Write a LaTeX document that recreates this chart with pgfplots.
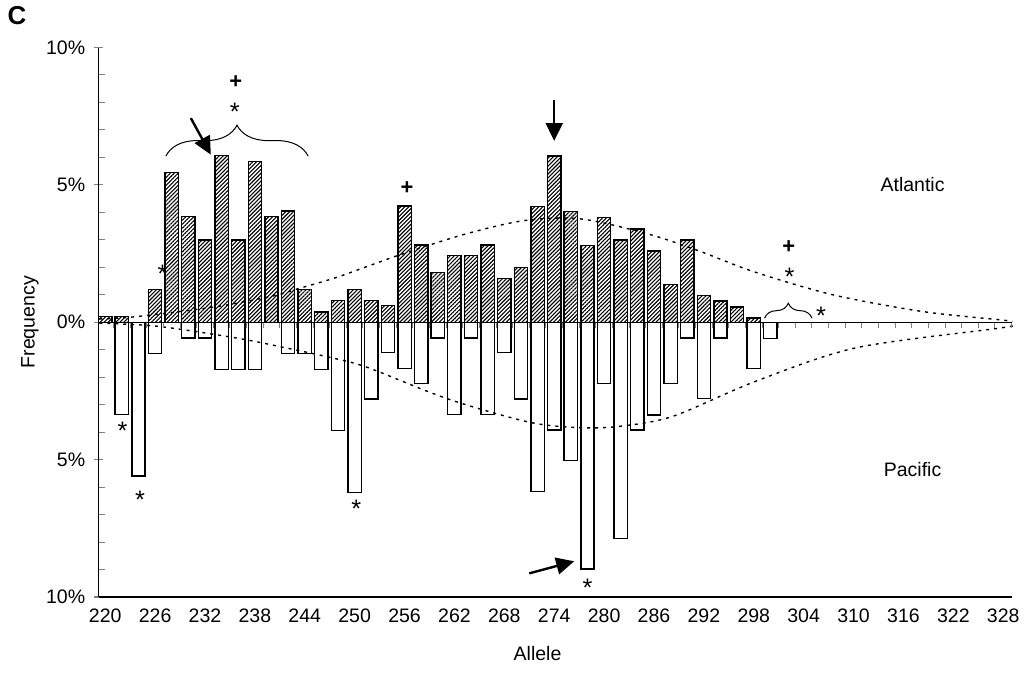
\documentclass[border=0pt]{standalone}
\usepackage{fontspec}
\setmainfont{Liberation Sans}
\usepackage{pgfplots}
\pgfplotsset{compat=1.18}
\usetikzlibrary{patterns.meta,decorations.pathreplacing,arrows.meta}

\newcommand{\astr}{\fontsize{12.7}{14}\selectfont *}
\newcommand{\pls}{\fontsize{11}{13}\selectfont\bfseries +}
\begin{document}
\fontsize{9.8}{11.8}\selectfont
\begin{tikzpicture}[font=\fontsize{9.8}{11.8}\selectfont]
\path (-49.5pt,-41pt) rectangle (463.5pt,299pt);
\begin{axis}[
  at={(0pt,0pt)}, anchor=south west,
  width=459pt, height=276pt, scale only axis,
  xmin=219.2, xmax=329.1, ymin=-10, ymax=10,
  axis x line*=bottom, axis y line*=left,
  axis line style={line width=0.7pt,-},
  clip=false,
  /pgf/number format/assume math mode=true,
  xtick={220,226,...,328},
  major x tick style={draw=none},
  ytick={-10,-5,0,5,10},
  yticklabels={10\%,5\%,0\%,5\%,10\%},
  minor ytick={-9,-8,-7,-6,-4,-3,-2,-1,1,2,3,4,6,7,8,9},
  tick align=center,
  major tick length=4.5pt, minor tick length=3pt,
  major y tick style={line width=0.6pt},
  minor y tick style={xshift=1.5pt,line width=0.5pt},
  yticklabel shift=1pt,
  xticklabel style={yshift=-0.5pt},
]
% Atlantic
\addplot[ybar, bar width=1.6, bar shift=0pt, draw=black, line width=0.7pt,
  pattern={Lines[angle=45,distance=1.4pt,line width=0.55pt]}] coordinates {
(220,0.2) (222,0.2) (226,1.2) (228,5.45) (230,3.85) (232,3.0) (234,6.07) (236,3.0)
(238,5.85) (240,3.85) (242,4.05) (244,1.2) (246,0.38) (248,0.8) (250,1.2) (252,0.8)
(254,0.6) (256,4.23) (258,2.81) (260,1.8) (262,2.42) (264,2.42) (266,2.81) (268,1.59)
(270,2.0) (272,4.22) (274,6.05) (276,4.03) (278,2.8) (280,3.82) (282,3.0) (284,3.4)
(286,2.6) (288,1.38) (290,3.0) (292,0.97) (294,0.78) (296,0.56) (298,0.16)
};
% Pacific
\addplot[ybar, bar width=1.6, bar shift=0pt, draw=black, fill=white, line width=0.7pt] coordinates {
(222,-3.36) (224,-5.6) (226,-1.13) (230,-0.57) (232,-0.57) (234,-1.71) (236,-1.71) (238,-1.71)
(242,-1.13) (244,-1.13) (246,-1.71) (248,-3.94) (250,-6.19) (252,-2.8) (254,-1.1) (256,-1.69)
(258,-2.23) (260,-0.57) (262,-3.35) (264,-0.57) (266,-3.35) (268,-1.1) (270,-2.8) (272,-6.17)
(274,-3.92) (276,-5.04) (278,-8.98) (280,-2.23) (282,-7.87) (284,-3.92) (286,-3.37) (288,-2.23)
(290,-0.57) (292,-2.77) (294,-0.57) (298,-1.69) (300,-0.59)
};
% dashed envelopes
\addplot[smooth, no markers, line width=0.7pt, dash pattern=on 1.5pt off 2.5pt] coordinates {
(219.3,0.12) (223.6,0.2) (233,0.55) (240.1,0.95) (243.3,1.23) (248,1.65) (255.2,2.43)
(263.2,3.2) (270.4,3.7) (277.2,3.76) (285.2,3.22) (291.2,2.62) (298,1.84) (307.5,1.0)
(318.3,0.39) (327.9,0.08) (329.1,0.03)
};
\addplot[smooth, no markers, line width=0.7pt, dash pattern=on 1.5pt off 2.5pt] coordinates {
(219.3,-0.03) (226.1,-0.14) (233.7,-0.47) (237.7,-0.68) (240.9,-0.88) (247.2,-1.29)
(251.6,-1.65) (261.2,-2.79) (271.2,-3.65) (277.6,-3.84) (282.4,-3.77) (288.4,-3.41)
(298.3,-2.14) (310.3,-0.93) (327.4,-0.22) (329.1,-0.12)
};
% annotations
\draw[decorate, decoration={brace, amplitude=15.5pt}, line width=0.5pt]
  (axis cs:227.3,6.05) -- (axis cs:244.4,6.05);
\draw[decorate, decoration={brace, amplitude=7.5pt}, line width=0.5pt]
  (axis cs:299.3,0.15) -- (axis cs:305.0,0.15);
\draw[line width=1.2pt, -{Triangle[length=9pt,width=8.5pt]}] (axis cs:230.3,7.43) -- (axis cs:232.7,6.1);
\draw[line width=1.2pt, -{Triangle[length=9pt,width=8.5pt]}] (axis cs:274,8.08) -- (axis cs:274,6.6);
\draw[line width=1.2pt, -{Triangle[length=9pt,width=8.5pt]}] (axis cs:271.0,-9.14) -- (axis cs:276.4,-8.7);
\node at (axis cs:235.7,8.73) {\pls};
\node[yshift=-2.8pt] at (axis cs:235.6,7.86) {\astr};
\node[yshift=-2.8pt] at (axis cs:226.9,1.97) {\astr};
\node at (axis cs:256.3,4.87) {\pls};
\node at (axis cs:302.2,2.73) {\pls};
\node[yshift=-2.8pt] at (axis cs:302.3,1.87) {\astr};
\node[yshift=-2.8pt] at (axis cs:306.1,0.42) {\astr};
\node[yshift=-2.8pt] at (axis cs:222.1,-3.73) {\astr};
\node[yshift=-2.8pt] at (axis cs:224.2,-6.27) {\astr};
\node[yshift=-2.8pt] at (axis cs:250.2,-6.6) {\astr};
\node[yshift=-2.8pt] at (axis cs:278.0,-9.45) {\astr};
\node at (axis cs:317.1,5.0) {Atlantic};
\node at (axis cs:317.1,-5.36) {Pacific};
\end{axis}
% zero line with small ticks
\begin{axis}[
  at={(0pt,0pt)}, anchor=south west,
  width=459pt, height=276pt, scale only axis,
  xmin=219.2, xmax=329.1, ymin=-10, ymax=10,
  axis x line=middle, axis y line=none,
  axis line style={line width=0.7pt,-},
  xtick={221,223,...,329}, xticklabels={}, ytick=\empty,
  tick align=center, major tick length=3pt,
  major x tick style={yshift=-1.5pt,line width=0.5pt},
]
\end{axis}
\node[rotate=90] at (-34.5pt,138pt) {Frequency};
\node at (220.5pt,-28.5pt) {Allele};
\node at (-41pt,292pt) {\fontsize{13}{15}\selectfont\bfseries C};
\end{tikzpicture}
\end{document}
